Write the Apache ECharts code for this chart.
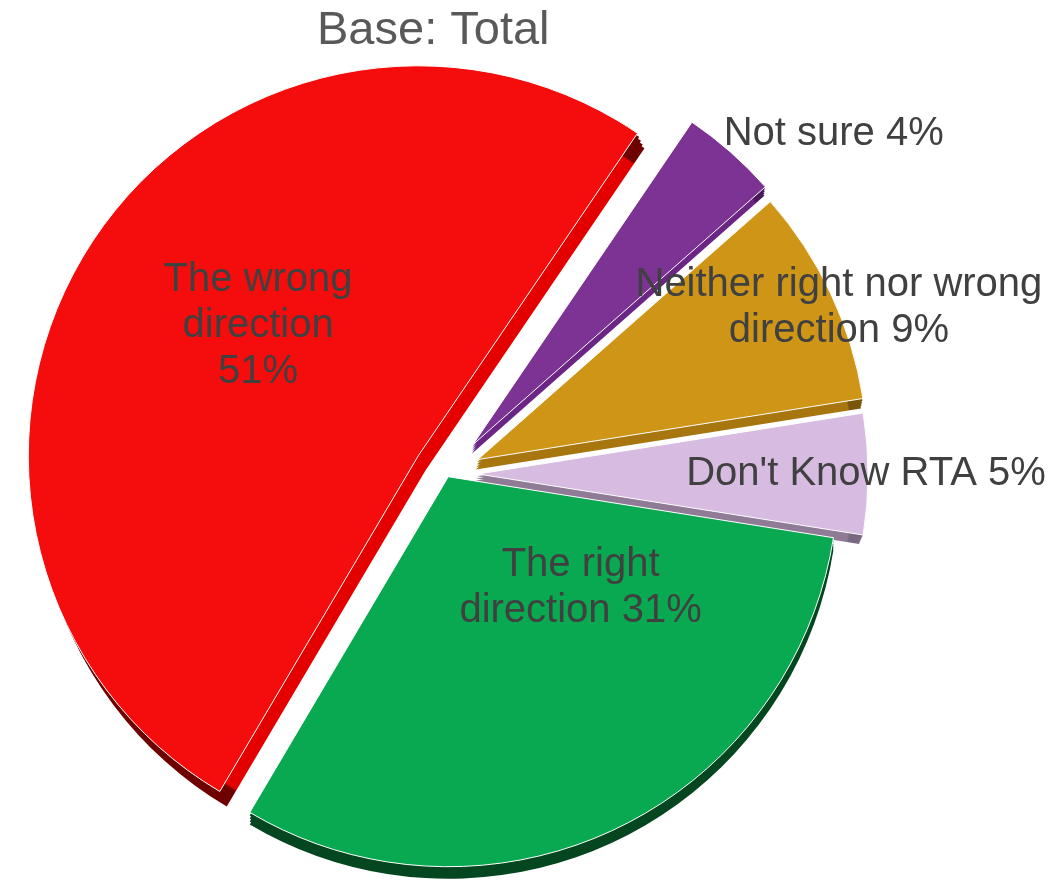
<!DOCTYPE html>
<html>
<head>
<meta charset="utf-8">
<script src="https://cdn.jsdelivr.net/npm/echarts@6/dist/echarts.min.js"></script>
<style>
html,body{margin:0;padding:0;background:#fff;}
#chart{width:1053px;height:880px;}
</style>
</head>
<body>
<div id="chart"></div>
<script>
// ---- data ----
const categories = ['The right direction', 'The wrong direction', 'Not sure', 'Neither right nor wrong direction', "Don't Know RTA"];
const values = [31, 51, 4, 9, 5];
const labelTexts = ['The right\ndirection ', 'The wrong\ndirection\n', 'Not sure ', 'Neither right nor wrong\ndirection ', "Don't Know RTA "];
const titleText = 'Base: Total';

// ---- style / layout ----
const faceColors = ['#08a950', '#f50d0d', '#7c3393', '#cf9516', '#d7bbe0'];
const sideCut   = ['#057a3a', '#e50000', '#6b2584', '#a8760e', '#8f7b96'];
const sideRim   = ['#03461f', '#6e0000', '#4a1a5c', '#7a560a', '#7a6880'];
const sideShift = [[0, 12], [7, 15], [-1, 9], [-2, 10], [-4, 9]];
const C0 = [447, 474];
const R = 390;
const START = -9;
const explode = [3, 34, 39, 34, 31];
const labelShift = [[48, -68], [7, -24], [230, -162], [182, -67], [190, 0]];

const total = values.reduce((a, b) => a + b, 0);
const centers = [];
let cum = 0;
for (let i = 0; i < values.length; i++) {
  const midDeg = -START + (cum + values[i] / 2) / total * 360;
  cum += values[i];
  const a = midDeg * Math.PI / 180;
  centers.push([C0[0] + explode[i] * Math.cos(a), C0[1] + explode[i] * Math.sin(a)]);
}

const FONT = '"Liberation Sans", Arial, sans-serif';
const series = [];

// side (depth) layers
const fracs = [0.25, 0.5, 0.75, 1];
fracs.forEach((f) => {
  for (let i = 0; i < values.length; i++) {
    const cx = centers[i][0] + sideShift[i][0] * f;
    const cy = centers[i][1] + sideShift[i][1] * f;
    const len = Math.hypot(sideShift[i][0], sideShift[i][1]);
    series.push({
      type: 'pie', silent: true, animation: false, z: 1,
      center: [cx, cy], radius: [0, R], startAngle: START, clockwise: true,
      avoidLabelOverlap: false,
      label: { show: false }, labelLine: { show: false },
      emphasis: { disabled: true },
      data: values.map((v, j) => ({
        name: categories[j], value: v,
        itemStyle: j === i ? {
          color: {
            type: 'radial', x: cx, y: cy, r: R, global: true,
            colorStops: [
              { offset: 0, color: sideCut[i] },
              { offset: (R - len - 3) / R, color: sideCut[i] },
              { offset: (R - len - 1) / R, color: sideRim[i] },
              { offset: 1, color: sideRim[i] }
            ]
          }, borderWidth: 0
        } : { color: 'rgba(0,0,0,0)', borderWidth: 0 }
      }))
    });
  }
});

// top faces with labels
for (let i = 0; i < values.length; i++) {
  series.push({
    type: 'pie', silent: true, animation: false, z: 3,
    center: centers[i], radius: [0, R], startAngle: START, clockwise: true,
    avoidLabelOverlap: false,
    label: {
      position: 'inside',
      formatter: (p) => labelTexts[p.dataIndex] + p.value + '%',
      color: '#404040', fontSize: 40, lineHeight: 46, fontFamily: FONT
    },
    labelLine: { show: false },
    labelLayout: (p) => p.dataIndex === i ? { dx: labelShift[i][0], dy: labelShift[i][1] } : {},
    emphasis: { disabled: true },
    data: values.map((v, j) => ({
      name: categories[j], value: v,
      label: { show: j === i },
      itemStyle: j === i ? { color: faceColors[i], borderColor: '#ffffff', borderWidth: 1 }
                         : { color: 'rgba(0,0,0,0)', borderWidth: 0 }
    }))
  });
}

const chart = echarts.init(document.getElementById('chart'), null, { renderer: 'canvas' });
chart.setOption({
  backgroundColor: '#ffffff',
  animation: false,
  title: {
    text: titleText, left: 312, top: 3,
    textStyle: { color: '#595959', fontSize: 47, fontWeight: 'normal', fontFamily: FONT }
  },
  series: series
});
</script>
</body>
</html>
